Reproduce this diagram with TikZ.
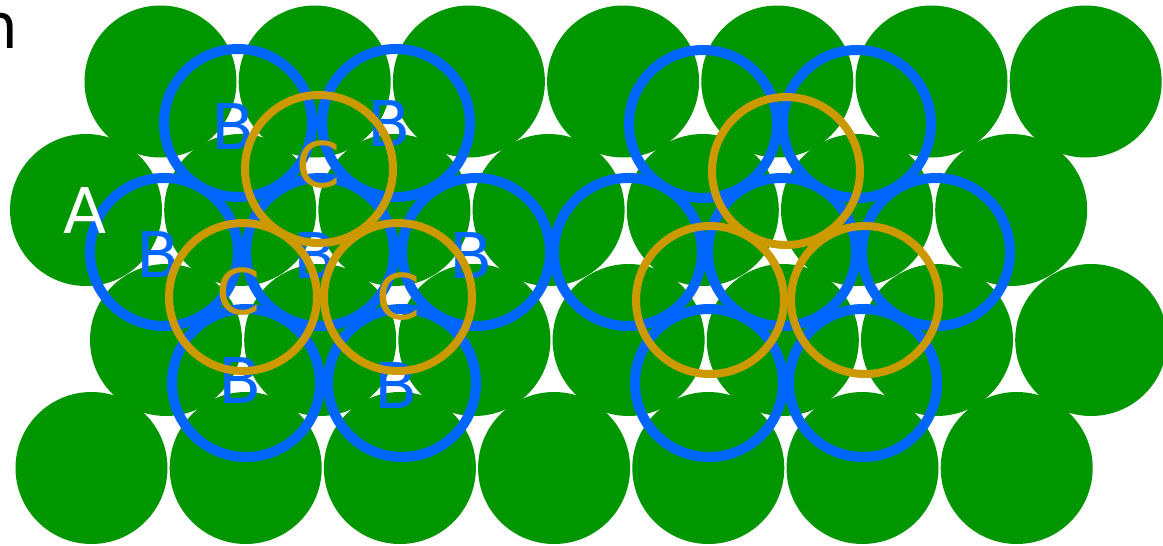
\documentclass[tikz,border=0pt]{standalone}
\usepackage{fontspec}
\setmainfont{DejaVu Sans}
\definecolor{ballgreen}{RGB}{0,150,0}
\definecolor{layerblue}{RGB}{0,102,255}
\definecolor{layergold}{RGB}{204,153,0}
\begin{document}
\begin{tikzpicture}[x=1pt,y=-1pt,
  ball/.style={circle,fill=ballgreen,inner sep=0pt,minimum size=152pt},
  bring/.style={circle,draw=layerblue,line width=10pt,inner sep=0pt,minimum size=148pt},
  cring/.style={circle,draw=layergold,line width=8pt,inner sep=0pt,minimum size=148pt},
  lbl/.style={inner sep=0pt,font=\fontsize{63}{63}\selectfont}]
\useasboundingbox (0,0) rectangle (1163,546);
% layer A (green spheres)
\foreach \x [count=\i] in {160.5,314.7,468.9,623.1,777.3,931.5,1085.7}
  \node[ball] (ga\i) at (\x,81.5) {};
\foreach \x [count=\i] in {86,240.2,394.4,548.6,702.8,857,1011.2}
  \node[ball] (gb\i) at (\x,210) {};
\foreach \x [count=\i] in {166,320.2,474.4,628.6,782.8,937,1091.2}
  \node[ball] (gc\i) at (\x,340) {};
\foreach \x [count=\i] in {91.5,245.7,399.9,554.1,708.3,862.5,1016.7}
  \node[ball] (gd\i) at (\x,468) {};
% layer B (blue rings)
\node[bring] (b1) at (238,123) {};
\node[bring] (b2) at (396,123) {};
\node[bring] (b3) at (164,252) {};
\node[bring] (b4) at (320,252) {};
\node[bring] (b5) at (476,252) {};
\node[bring] (b6) at (246,383) {};
\node[bring] (b7) at (402,383) {};
\node[bring] (b8) at (703,124) {};
\node[bring] (b9) at (857,124) {};
\node[bring] (b10) at (628,252) {};
\node[bring] (b11) at (782,252) {};
\node[bring] (b12) at (936,252) {};
\node[bring] (b13) at (709,383) {};
\node[bring] (b14) at (863,383) {};
% labels B and A
\node[lbl,text=layerblue] (lb1) at (233,127) {B};
\node[lbl,text=layerblue] (lb2) at (389,124) {B};
\node[lbl,text=layerblue] (lb3) at (158,255) {B};
\node[lbl,text=layerblue] (lb4) at (315,256) {B};
\node[lbl,text=layerblue] (lb5) at (471,256) {B};
\node[lbl,text=layerblue] (lb6) at (240,381) {B};
\node[lbl,text=layerblue] (lb7) at (396,386) {B};
\node[lbl,text=white] (la) at (85,211) {A};
% layer C (gold rings)
\node[cring] (c1) at (319,169) {};
\node[cring] (c2) at (243,297) {};
\node[cring] (c3) at (398,297) {};
\node[cring] (c4) at (786,171) {};
\node[cring] (c5) at (710,300) {};
\node[cring] (c6) at (865,300) {};
% labels C
\node[lbl,text=layergold] (lc1) at (318,165) {C};
\node[lbl,text=layergold] (lc2) at (238,292) {C};
\node[lbl,text=layergold] (lc3) at (398,297) {C};
% clipped caption fragment
\node[lbl,text=black,anchor=base east] (cap) at (18.5,48) {n};
\end{tikzpicture}
\end{document}
